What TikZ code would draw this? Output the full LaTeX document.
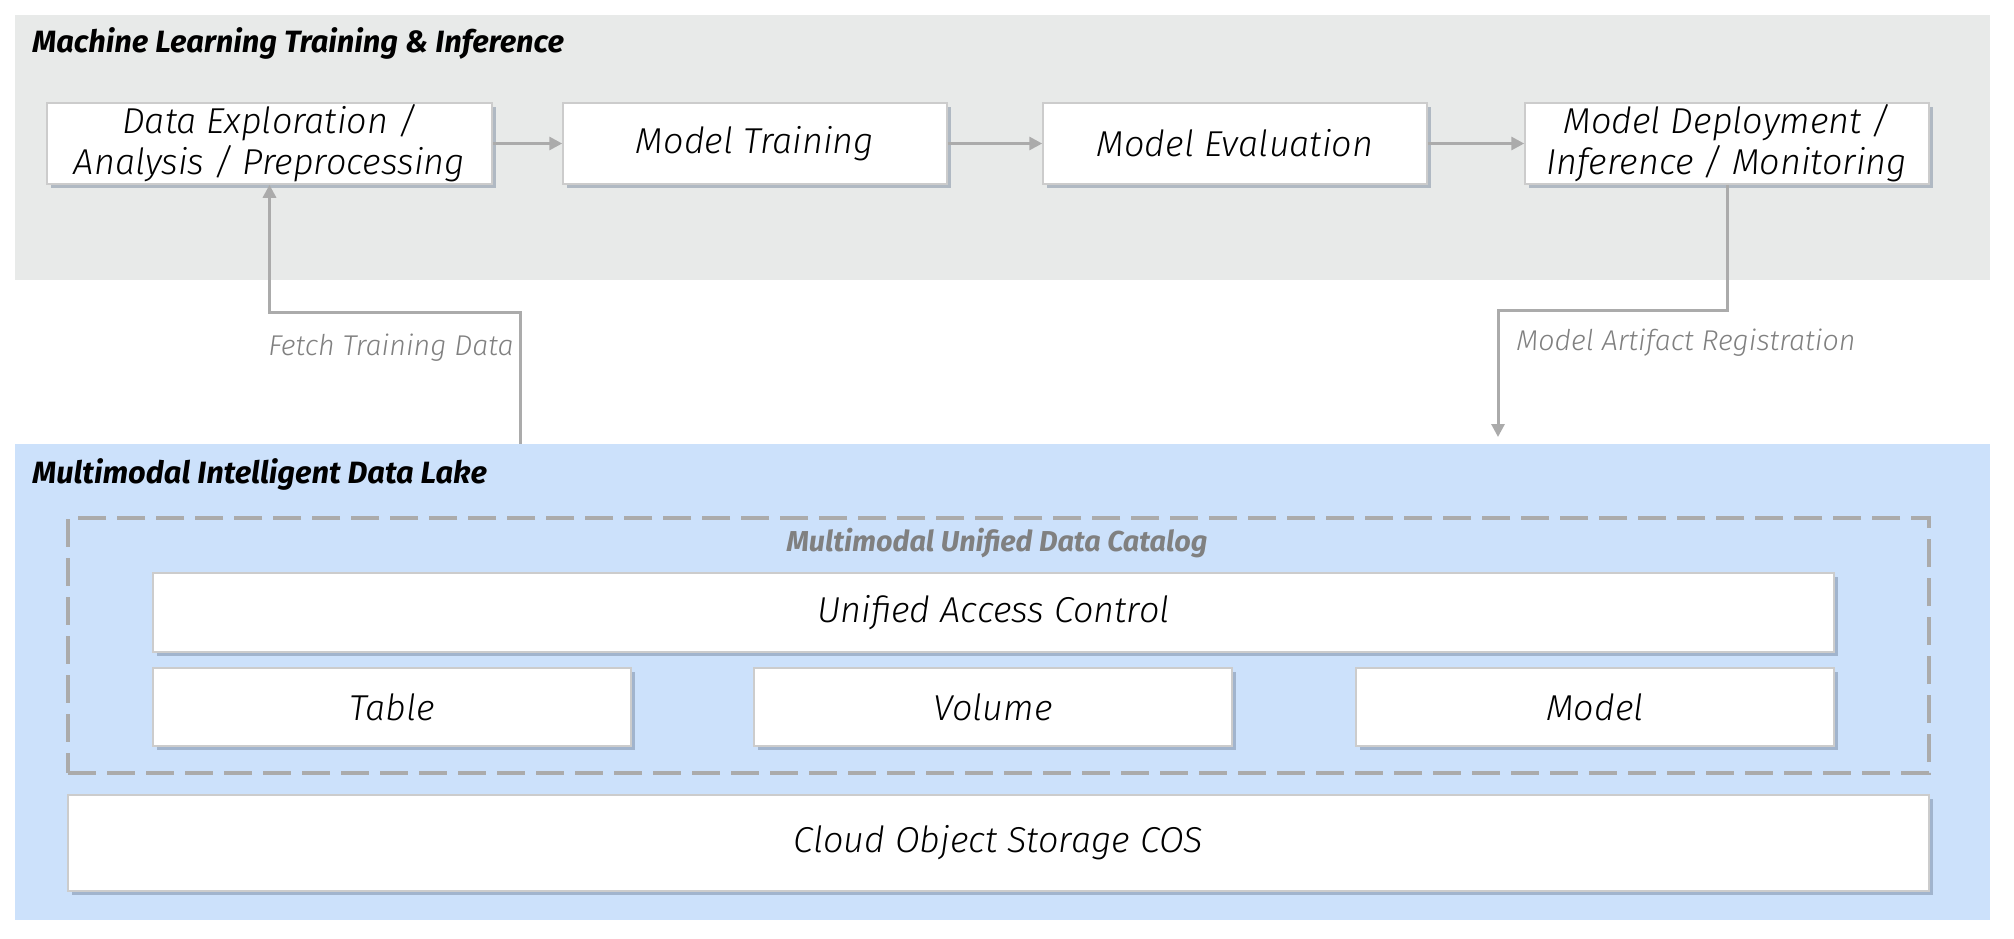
\documentclass[tikz,border=0pt]{standalone}
\usepackage{fontspec}
\setmainfont{Fira Sans}[ItalicFont={Fira Sans Light Italic}, BoldItalicFont={Fira Sans Bold Italic}]
\usepackage{tikz}
\usetikzlibrary{arrows.meta, shadows}
\usepackage{xcolor}

\definecolor{panelgray}{HTML}{E8EAE9}
\definecolor{lakeblue}{HTML}{CCE1FB}
\definecolor{linegray}{HTML}{ABABAB}
\definecolor{boxline}{HTML}{CCCCCC}
\definecolor{labelgray}{HTML}{808080}
\definecolor{shadowblue}{HTML}{6E7F96}

\begin{document}
\begin{tikzpicture}[x=0.5pt, y=-0.5pt, >={Triangle[length=6.5pt, width=6.5pt]},
  panel/.style={draw=none, minimum width=987.5pt, inner sep=0pt},
  box/.style={draw=boxline, line width=0.75pt, fill=white, inner sep=0pt, align=center,
    font=\itshape\fontsize{18}{20.5}\selectfont,
    drop shadow={shadow xshift=2pt, shadow yshift=-2pt, fill=shadowblue, opacity=0.45}},
  flow/.style={->, draw=linegray, line width=1.5pt},
  title/.style={anchor=west, inner sep=0pt, font=\bfseries\itshape\fontsize{15.4}{17}\selectfont},
  flowlabel/.style={inner sep=0pt, text=labelgray, font=\itshape\fontsize{14.3}{16}\selectfont}]
  \useasboundingbox (0,0) rectangle (2014,938);

  % panels
  \node[panel, fill=panelgray, minimum height=132.5pt] (mlpanel) at (1002.5,147.5) {};
  \node[panel, fill=lakeblue, minimum height=238pt] (lake) at (1002.5,682) {};
  \node[title] at (32,43) {Machine Learning Training \& Inference};
  \node[title] at (32,474) {Multimodal Intelligent Data Lake};

  % training pipeline
  \node[box, minimum width=222.5pt, minimum height=40.5pt] (explore) at (269.5,143.5)
    {Data Exploration /\\Analysis / Preprocessing};
  \node[box, minimum width=192pt, minimum height=40.5pt] (train) at (755,143.5) {Model Training};
  \node[box, minimum width=192pt, minimum height=40.5pt] (evaluate) at (1235,143.5) {Model Evaluation};
  \node[box, minimum width=202pt, minimum height=40.5pt] (deploy) at (1727,143.5)
    {Model Deployment /\\Inference / Monitoring};

  \draw[flow] (explore) -- (train);
  \draw[flow] (train) -- (evaluate);
  \draw[flow] (evaluate) -- (deploy);

  % catalog
  \node[draw=linegray, line width=1.6pt, dash pattern=on 14pt off 5.5pt,
    minimum width=930.5pt, minimum height=127.5pt] (catalog) at (998.5,645.5) {};
  \node[inner sep=0pt, text=labelgray, font=\bfseries\itshape\fontsize{14.4}{16}\selectfont]
    at (997,543) {Multimodal Unified Data Catalog};
  \node[box, minimum width=840.5pt, minimum height=39.5pt] (access) at (993.5,612.5) {Unified Access Control};
  \node[box, minimum width=239pt, minimum height=39pt] (table) at (392,707) {Table};
  \node[box, minimum width=239pt, minimum height=39pt] (volume) at (993,707) {Volume};
  \node[box, minimum width=239pt, minimum height=39pt] (model) at (1595,707) {Model};
  \node[box, minimum width=930.5pt, minimum height=48pt] (cos) at (998.5,843) {Cloud Object Storage COS};

  % links between the two panels
  \coordinate (fetchfoot) at (520,444);
  \coordinate (fetchbend) at (520,312);
  \draw[flow] (fetchfoot) -- (fetchbend) -| (explore.south);
  \node[flowlabel, anchor=east] at (514,348) {Fetch Training Data};

  \coordinate (artifactbend) at (1498,310);
  \coordinate (artifacttip) at (1498,437);
  \draw[flow] (deploy.south) |- (artifactbend) -- (artifacttip);
  \node[flowlabel, anchor=west] at (1516,343) {Model Artifact Registration};
\end{tikzpicture}
\end{document}
